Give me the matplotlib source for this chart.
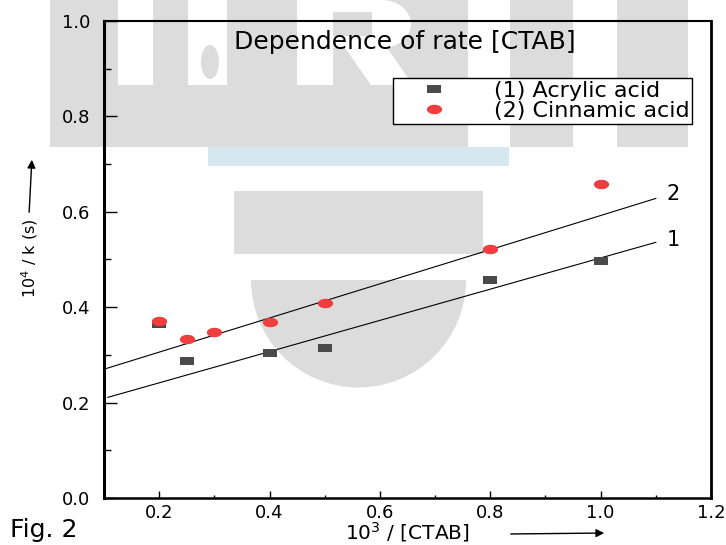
import numpy as np
import matplotlib
matplotlib.use('Agg')
import matplotlib.pyplot as plt
from matplotlib.patches import Rectangle, Ellipse, Wedge, Polygon
from matplotlib.transforms import IdentityTransform
from matplotlib.ticker import MultipleLocator

plt.rcParams['font.family'] = ['DejaVu Sans']

# data
acrylic_x = [0.2, 0.25, 0.4, 0.5, 0.8, 1.0]
acrylic_y = [0.365, 0.287, 0.303, 0.314, 0.456, 0.496]
cinnamic_x = [0.2, 0.25, 0.3, 0.4, 0.5, 0.8, 1.0]
cinnamic_y = [0.371, 0.333, 0.349, 0.368, 0.408, 0.521, 0.659]
fit1_x = [0.107, 1.1]
fit1_y = [0.211, 0.536]
fit2_x = [0.1, 1.1]
fit2_y = [0.270, 0.628]
series_labels = ['(1) Acrylic acid', '(2) Cinnamic acid']
line_labels = ['1', '2']
x_ticks = [0.2, 0.4, 0.6, 0.8, 1.0, 1.2]
y_ticks = [0.0, 0.2, 0.4, 0.6, 0.8, 1.0]

W, H = 726, 545
fig = plt.figure(figsize=(W / 100, H / 100), dpi=100)

# watermark behind the plot (pixel coords, y from top)
grey = '#dcdcdd'
def px_rect(x0, y0, x1, y1, color):
    fig.add_artist(Rectangle((x0, H - y1), x1 - x0, y1 - y0, facecolor=color, edgecolor='none',
                             transform=IdentityTransform(), zorder=-5))

def px_ell(x, y, w, h, color):
    fig.add_artist(Ellipse((x, H - y), w, h, facecolor=color, edgecolor='none',
                           transform=IdentityTransform(), zorder=-5))

px_rect(50, 0, 688, 147, grey)
px_rect(118, 0, 153, 85, 'white')
px_rect(188, 0, 227, 85, 'white')
px_ell(210, 62, 18, 34, grey)
px_rect(297, 0, 333, 85, 'white')
px_rect(333, 0, 380, 48, 'white')
px_ell(382, 24, 58, 48, 'white')
px_rect(333, 12, 372, 36, grey)
fig.add_artist(Polygon([(345, H - 48), (387, H - 48), (413, H - 85), (371, H - 85)],
                       facecolor='white', edgecolor='none', transform=IdentityTransform(), zorder=-5))
px_rect(468, 0, 510, 147, 'white')
px_rect(573, 0, 617, 147, 'white')
px_rect(208, 147, 509, 166, '#d5e7ef')
px_rect(234, 191, 483, 254, grey)
fig.add_artist(Wedge((358.5, H - 280), 107.5, 180, 360, facecolor=grey, edgecolor='none',
                     transform=IdentityTransform(), zorder=-5))

ax = fig.add_axes([104 / W, 1 - 498 / H, (711 - 104) / W, (498 - 21) / H])
ax.patch.set_alpha(0)

# flattened markers like in the scan
t = np.linspace(0, 2 * np.pi, 40)
ell_marker = np.column_stack([np.cos(t), 0.62 * np.sin(t)])
rect_marker = [(-1, -0.55), (1, -0.55), (1, 0.55), (-1, 0.55), (-1, -0.55)]

ax.plot(fit1_x, fit1_y, color='black', lw=0.8)
ax.plot(fit2_x, fit2_y, color='black', lw=0.8)
ax.plot(acrylic_x, acrylic_y, ls='none', marker=rect_marker, ms=10, mew=0,
        color='#4a4a4a', label=series_labels[0], zorder=3)
ax.plot(cinnamic_x, cinnamic_y, ls='none', marker=ell_marker, ms=11, mew=0,
        color='#ef3e3e', label=series_labels[1], zorder=4)

ax.text(fit1_x[-1] + 0.02, fit1_y[-1] + 0.004, line_labels[0], fontsize=15, va='center')
ax.text(fit2_x[-1] + 0.02, fit2_y[-1] + 0.01, line_labels[1], fontsize=15, va='center')

ax.set_xlim(0.1, 1.2)
ax.set_ylim(0, 1.0)
ax.set_xticks(x_ticks)
ax.set_yticks(y_ticks)
ax.xaxis.set_minor_locator(MultipleLocator(0.1))
ax.yaxis.set_minor_locator(MultipleLocator(0.1))
ax.tick_params(axis='y', which='major', direction='in', length=9.5, width=1, pad=10, labelsize=13)
ax.tick_params(axis='y', which='minor', direction='in', length=5, width=1)
ax.tick_params(axis='x', which='major', direction='in', length=5, width=1, pad=4, labelsize=13)
ax.tick_params(axis='x', which='minor', direction='in', length=2.5, width=1)
ax.spines['left'].set_linewidth(2.2)
ax.spines['right'].set_linewidth(2.0)
ax.spines['top'].set_linewidth(1.5)
ax.spines['bottom'].set_linewidth(1.8)

ax.text(0.496, 0.955, 'Dependence of rate [CTAB]', transform=ax.transAxes,
        ha='center', va='center', fontsize=18)

leg = ax.legend(loc='upper right', bbox_to_anchor=(0.969, 0.880), borderaxespad=0,
                fontsize=16, fancybox=False, framealpha=1, edgecolor='black',
                handlelength=3.4, handletextpad=1.0, borderpad=0.12, labelspacing=0.0)
leg.get_frame().set_linewidth(1.0)

# axis labels with arrows
fig.text(30 / W, 1 - 258 / H, '10$^4$ / k (s)', rotation=90, ha='center', va='center', fontsize=11.5)
fig.text(407 / W, 1 - 544 / H, '10$^3$ / [CTAB]', ha='center', va='bottom', fontsize=14.5)
fig.text(10 / W, 1 - 530 / H, 'Fig. 2', ha='left', va='center', fontsize=18)
ax.annotate('', xy=(32 / W, 1 - 157 / H), xytext=(29 / W, 1 - 215 / H), xycoords='figure fraction',
            arrowprops=dict(arrowstyle='-|>', color='black', lw=1, mutation_scale=12))
ax.annotate('', xy=(607 / W, 1 - 533 / H), xytext=(508 / W, 1 - 534 / H), xycoords='figure fraction',
            arrowprops=dict(arrowstyle='-|>', color='black', lw=1, mutation_scale=12))

fig.savefig('out.png', dpi=100)
